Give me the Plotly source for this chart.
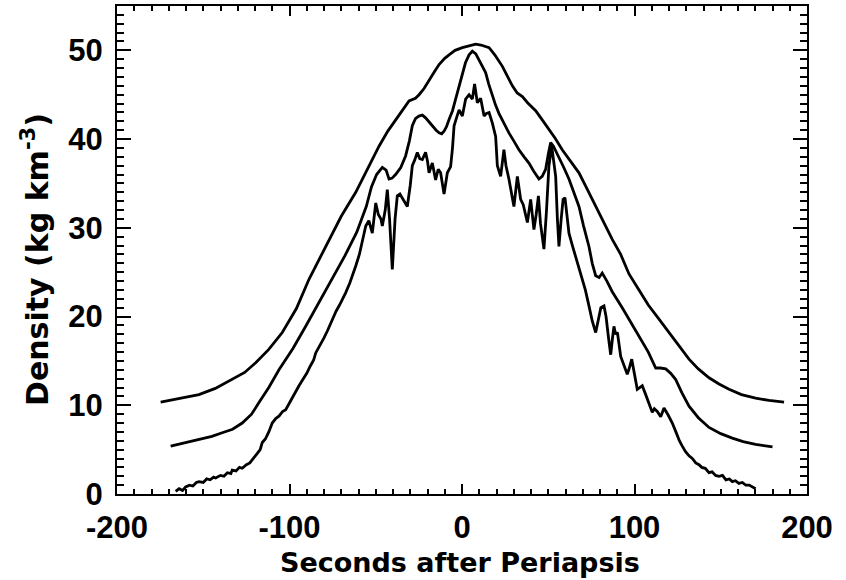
import plotly.graph_objects as go

# ---- data ----
outer_x = [-174.7, -165, -152.5, -143, -133.2, -126, -119.6, -112, -104.2, -96, -88.7, -77.1, -70, -61.6,
           -55, -48.1, -43, -38.4, -34, -30.7, -27, -24.9, -22, -19.1, -16, -13.3, -10, -7.5, -4, 0.2, 4,
           7.9, 11, 15.7, 19, 23.4, 26, 29.2, 32, 35, 38, 42.7, 46, 50.4, 54, 58.1, 62, 67.8, 71.7, 76, 80,
           87.1, 92, 96.8, 102.6, 108, 114.2, 120, 125.8, 131.6, 137, 143.2, 149, 154.8, 162, 170.2, 178, 186.7]
outer_y = [10.35, 10.7, 11.2, 11.9, 12.9, 13.7, 14.8, 16.3, 18.2, 20.9, 24.2, 28.7, 31.3, 34.0,
           36.6, 39.2, 40.9, 42.2, 43.4, 44.3, 44.6, 45.0, 45.7, 46.7, 47.6, 48.4, 49.1, 49.5, 50.0, 50.3, 50.5,
           50.7, 50.6, 50.3, 49.5, 48.2, 47.2, 46.0, 45.2, 44.8, 44.1, 43.2, 42.3, 41.1, 40.1, 38.8, 37.7, 36.2, 34.7, 33.0, 31.5,
           28.7, 27.0, 24.8, 23.0, 21.3, 19.7, 18.2, 16.8, 15.2, 14.1, 13.1, 12.4, 11.8, 11.2, 10.8, 10.55, 10.35]

middle_x = [-168.9, -160, -152.5, -145, -139, -133, -127.4, -122, -117.7, -112, -106.1, -98, -90.6, -83,
            -75.2, -68, -61, -55.5, -52.5, -49.5, -46.2, -44, -42.3, -40.5, -38.5, -35.5, -32.7, -30.5,
            -28.8, -27, -25.0, -23, -21.1, -19, -17.2, -15, -13.3, -11.8, -10.4, -9, -7.5, -5.5, -3.7, -2,
            0.2, 2, 4.1, 6.0, 8, 9.9, 12, 13.7, 15.5, 17.6, 19.5, 21.4, 24, 27.2, 30, 33.0, 36, 38.8, 41.5,
            44.6, 46.5, 48.5, 50, 51.4, 53, 54.5, 56.2, 59, 62.0, 65, 67.8, 70.5, 73.6, 75.5, 77.5, 79.5,
            81.3, 84, 87.1, 92.9, 96.8, 102.6, 108, 112.3, 115, 118.1, 121, 123.9, 127.5, 131.6, 137,
            143.2, 150, 156.7, 163, 170.2, 176, 180]
middle_y = [5.4, 5.8, 6.1, 6.5, 6.9, 7.3, 8.0, 9.0, 10.3, 12.0, 14.0, 16.4, 18.9, 21.5,
            24.2, 26.8, 29.5, 32.4, 34.6, 36.0, 36.8, 36.5, 35.5, 35.6, 36.0, 36.8, 38.1, 39.8,
            41.5, 42.3, 42.6, 42.7, 42.4, 41.9, 41.5, 41.0, 40.7, 40.6, 40.9, 41.4, 42.2, 43.2, 44.5, 45.8,
            47.5, 48.6, 49.5, 49.9, 49.6, 48.9, 48.2, 47.5, 46.2, 44.8, 43.8, 42.9, 41.9, 40.7, 39.8, 38.8, 38.0, 37.3, 36.4,
            35.5, 35.8, 36.6, 38.3, 39.6, 39.2, 38.6, 38.1, 36.8, 35.5, 34.0, 32.4, 30.2, 27.9, 26.0, 24.6, 24.4,
            24.9, 24.0, 22.8, 21.0, 19.7, 17.8, 16.0, 14.2, 14.2, 14.1, 13.6, 12.9, 11.4, 9.9, 8.6,
            7.5, 6.8, 6.3, 5.9, 5.6, 5.4, 5.3]

inner_x = [-166, -164, -162, -160.2, -158, -156, -154, -152.5, -150, -148, -146, -144, -142.8, -140, -138,
           -136, -134, -133.2, -131, -129, -127.4, -125, -123, -121.6, -119, -117, -115.8, -114, -112, -110,
           -108, -106, -104, -102.2, -100, -98, -96, -94.5, -92, -90, -88, -86, -84.8, -82, -80, -78, -75.2,
           -73, -71, -69.4, -67.4, -65, -63, -61.6, -59.5, -57.5, -55.8, -54, -52, -50.0, -48.5, -47, -46.2,
           -44.5, -43.3, -42, -40.4, -38.8, -37.5, -36, -34.6, -31.7, -30, -28.8, -27.5, -25.9, -24.5, -23.0,
           -21.1, -20, -19.1, -17.2, -15.3, -13.8, -12.4, -10.4, -8.5, -6.6, -5.5, -4.6, -3, -1.7, 0.2, 2.1,
           4.1, 6.0, 7.3, 8.9, 10.8, 12.8, 14.2, 15.7, 17.6, 19.5, 20.5, 22.4, 24.3, 25.5, 27.2, 28.5, 30.1,
           32.1, 34.0, 35.5, 37.9, 39.8, 41.7, 43, 44.3, 45.5, 47.5, 49, 50.4, 52.0, 53.2, 54.3, 55.3, 56.2,
           57.5, 58.6, 59.7, 61, 62.0, 64, 65.9, 67.5, 69.7, 71.5, 73.6, 75.5, 77.5, 79, 80.5, 82.3, 83.5,
           85, 86.2, 87.2, 88.1, 89, 90.1, 92.0, 94, 95.8, 97, 98.4, 100, 101.6, 103, 104.5, 106.5, 108.4,
           110.3, 111.5, 113.2, 115.2, 116, 117.1, 119.5, 121.9, 124, 126, 127.7, 129.5, 131.6, 133.5, 135.5,
           137.4, 139, 141, 143.2, 145, 147, 149.0, 151, 153, 155, 156.7, 158.5, 160.5, 162.5, 164.5, 166.5,
           168.5, 170.2]
inner_y = [0.3, 0.6, 0.4, 0.8, 1.0, 0.9, 1.3, 1.4, 1.3, 1.7, 1.6, 1.9, 1.8, 2.1, 2.0,
           2.4, 2.3, 2.7, 2.6, 3.0, 2.9, 3.3, 3.5, 3.9, 4.5, 5.0, 5.8, 6.2, 7.0, 8.0,
           8.5, 8.8, 9.3, 9.5, 10.3, 11.0, 11.6, 12.2, 13.0, 13.6, 14.4, 15.1, 15.9, 16.8, 17.6, 18.4, 19.7,
           20.6, 21.3, 21.9, 22.7, 23.8, 24.8, 25.7, 27.0, 28.9, 30.2, 30.8, 29.4, 32.8, 31.5, 31.0, 30.2,
           32.0, 34.3, 31.0, 25.3, 31.0, 33.6, 33.8, 33.3, 32.4, 34.8, 37.0, 37.6, 38.5, 37.8, 37.7,
           38.5, 37.5, 36.2, 37.3, 35.4, 36.6, 36.2, 33.8, 36.2, 36.9, 39.0, 41.5, 42.5, 43.3, 42.6, 44.5,
           45.0, 44.5, 46.2, 44.1, 44.6, 42.6, 42.9, 43.0, 41.8, 40.3, 37.0, 35.8, 38.8, 37.0, 35.5, 34.0, 32.4,
           35.8, 33.2, 32.6, 30.6, 33.2, 29.8, 31.5, 33.6, 30.5, 27.6, 32.0, 37.0, 39.2, 37.5, 35.8, 31.0, 27.9,
           31.0, 33.2, 33.4, 31.0, 29.4, 28.0, 26.8, 25.8, 24.4, 23.0, 21.2, 19.5, 18.2, 19.5, 21.0, 21.2, 20.0,
           17.5, 15.7, 17.5, 18.9, 18.0, 18.2, 15.5, 14.5, 13.5, 14.2, 15.2, 13.5, 11.8, 12.0, 12.2, 11.2, 10.3,
           9.2, 9.6, 9.3, 8.7, 9.2, 9.7, 8.9, 8.0, 7.0, 6.0, 5.4, 4.8, 4.3, 4.0, 3.5,
           3.3, 3.0, 2.9, 2.4, 2.5, 2.1, 2.0, 2.1, 1.6, 1.7, 1.4, 1.5, 1.2, 1.3, 1.0, 1.0,
           0.8, 0.6]

x_ticks = [-200, -100, 0, 100, 200]
y_ticks = [0, 10, 20, 30, 40, 50]

x_title = "Seconds after Periapsis"
y_title = "Density (kg km<sup>-3</sup>)"

# ---- figure ----
fig = go.Figure()
for xs, ys in [(outer_x, outer_y), (middle_x, middle_y), (inner_x, inner_y)]:
    fig.add_trace(go.Scatter(x=xs, y=ys, mode="lines",
                             line=dict(color="black", width=2.8), showlegend=False,
                             hoverinfo="skip"))

tick_font = dict(family="Liberation Sans, Arial, sans-serif", size=31, color="black", weight="bold")
title_font_x = dict(family="DejaVu Sans, sans-serif", size=27, color="black", weight="bold")
title_font_y = dict(family="DejaVu Sans, sans-serif", size=30, color="black", weight="bold")

fig.update_layout(
    template="none",
    width=846, height=580,
    margin=dict(l=117, r=39, t=6, b=86, autoexpand=False),
    paper_bgcolor="white", plot_bgcolor="white",
    xaxis=dict(range=[-200, 200], tickvals=x_ticks, ticktext=[str(v) for v in x_ticks],
               automargin=False,
               ticks="inside", ticklen=10, tickwidth=2, tickcolor="black",
               showline=True, linewidth=2, linecolor="black", mirror="ticks",
               showgrid=False, zeroline=False, tickfont=tick_font, ticklabelstandoff=5,
               minor=dict(tick0=0, dtick=10, ticks="inside", ticklen=5, tickwidth=2,
                          tickcolor="black", showgrid=False)),
    yaxis=dict(range=[0, 55], tickvals=y_ticks, ticktext=[str(v) for v in y_ticks],
               automargin=False,
               ticks="inside", ticklen=14, tickwidth=2, tickcolor="black",
               showline=True, linewidth=2, linecolor="black", mirror="ticks",
               showgrid=False, zeroline=False, tickfont=tick_font, ticklabelstandoff=6,
               minor=dict(tick0=0, dtick=1, ticks="inside", ticklen=7, tickwidth=2,
                          tickcolor="black", showgrid=False)),
    annotations=[
        dict(text=x_title, xref="paper", yref="paper", x=0.5, y=0, xshift=-2, yshift=-68,
             xanchor="center", yanchor="middle", showarrow=False, font=title_font_x),
        dict(text=y_title, xref="paper", yref="paper", x=0, y=0.5, xshift=-82, yshift=-10,
             xanchor="center", yanchor="middle", textangle=-90, showarrow=False, font=title_font_y),
    ],
)

fig.write_html("out.html", config={"displayModeBar": False},
               post_script="document.body.style.margin='0';document.body.style.overflow='hidden';")
